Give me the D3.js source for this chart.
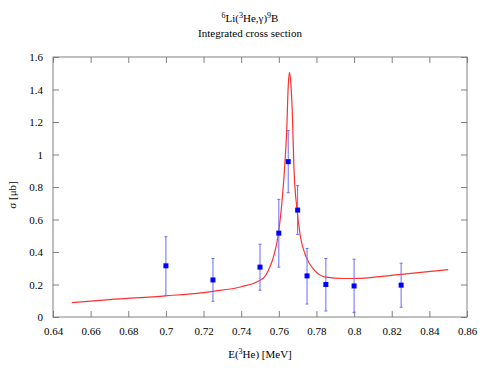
<!DOCTYPE html>
<html>
<head>
<meta charset="utf-8">
<script src="https://cdn.jsdelivr.net/npm/d3@7"></script>
<style>
body { margin: 0; background: #fff; }
svg text { font-family: 'Liberation Serif', 'DejaVu Serif', serif !important; fill: #000; }
</style>
</head>
<body>
<svg width="485" height="377" font-family="Liberation Serif"></svg>
<script>
// Measured points: energy, cross section, error bar low / high
var dataE = [0.70, 0.725, 0.75, 0.76, 0.765, 0.77, 0.775, 0.785, 0.80, 0.825];
var dataS = [0.315, 0.228, 0.307, 0.516, 0.956, 0.658, 0.253, 0.200, 0.191, 0.196];
var errLo = [0.132, 0.097, 0.165, 0.307, 0.765, 0.508, 0.080, 0.037, 0.027, 0.060];
var errHi = [0.494, 0.360, 0.448, 0.724, 1.147, 0.808, 0.422, 0.360, 0.356, 0.331];
// Fitted curve
var fitE = [0.65, 0.67, 0.70, 0.725, 0.74, 0.75, 0.7524, 0.7545, 0.7577, 0.7598, 0.7616, 0.7630,
            0.7642, 0.7650, 0.7656, 0.7663, 0.7672, 0.7680, 0.7697, 0.7715, 0.7745, 0.7789,
            0.7842, 0.7948, 0.80, 0.825, 0.85];
var fitS = [0.088, 0.107, 0.130, 0.158, 0.186, 0.226, 0.247, 0.288, 0.391, 0.514, 0.700, 0.905,
            1.15, 1.42, 1.505, 1.45, 1.25, 0.93, 0.658, 0.494, 0.370, 0.288,
            0.247, 0.237, 0.237, 0.262, 0.292];
var xTicks = [0.64, 0.66, 0.68, 0.70, 0.72, 0.74, 0.76, 0.78, 0.80, 0.82, 0.84, 0.86];
var yTicks = [0, 0.2, 0.4, 0.6, 0.8, 1.0, 1.2, 1.4, 1.6];

var svg = d3.select('svg');
var serif = "'Liberation Serif', 'DejaVu Serif', serif";
var margin = {top: 57, right: 18, bottom: 60, left: 53};
var width = 485 - margin.left - margin.right, height = 377 - margin.top - margin.bottom;
var inner = svg.append('g').attr('transform', 'translate(' + margin.left + ',' + margin.top + ')');

var x = d3.scaleLinear().domain([0.64, 0.86]).range([0, width]);
var y = d3.scaleLinear().domain([0, 1.6]).range([height, 0]);
var fmt = function(d) { return d3.format('~g')(+d.toFixed(2)); };
var axisColor = '#808080';

//Frame and axes with inward ticks, mirrored on top and right.
function styleAxis(g) {
	g.attr('font-family', serif).attr('font-size', 11);
	g.select('.domain').remove();
	g.selectAll('.tick line').attr('stroke', axisColor);
	g.selectAll('.tick text').style('font-family', serif).style('font-size', '11px').attr('fill', '#000');
}
inner.append('g').attr('transform', 'translate(0,' + height + ')')
	.call(d3.axisBottom(x).tickValues(xTicks).tickFormat(fmt).tickSizeInner(-6).tickPadding(10))
	.call(styleAxis);
inner.append('g')
	.call(d3.axisTop(x).tickValues(xTicks).tickFormat('').tickSizeInner(-6))
	.call(styleAxis);
inner.append('g')
	.call(d3.axisLeft(y).tickValues(yTicks).tickFormat(fmt).tickSizeInner(-6).tickPadding(10))
	.call(styleAxis);
inner.append('g').attr('transform', 'translate(' + width + ',0)')
	.call(d3.axisRight(y).tickValues(yTicks).tickFormat('').tickSizeInner(-6))
	.call(styleAxis);
inner.append('rect').attr('width', width).attr('height', height)
	.attr('fill', 'none').attr('stroke', axisColor).attr('stroke-width', 1);

//Fit curve.
var fit = fitE.map(function(e, i) { return {e: e, s: fitS[i]}; });
inner.append('path').datum(fit)
	.attr('fill', 'none').attr('stroke', '#ff3030').attr('stroke-width', 1.2)
	.attr('d', d3.line().curve(d3.curveMonotoneX)
		.x(function(d) { return x(d.e); }).y(function(d) { return y(d.s); }));

//Error bars and points.
var pts = dataE.map(function(e, i) { return {e: e, s: dataS[i], lo: errLo[i], hi: errHi[i]}; });
var eb = inner.append('g').attr('stroke', '#6a6aff').attr('stroke-width', 1);
eb.selectAll('line.v').data(pts).enter().append('line')
	.attr('x1', function(d) { return x(d.e); }).attr('x2', function(d) { return x(d.e); })
	.attr('y1', function(d) { return y(d.lo); }).attr('y2', function(d) { return y(d.hi); });
['lo', 'hi'].forEach(function(k) {
	eb.selectAll('line.c' + k).data(pts).enter().append('line')
		.attr('x1', function(d) { return x(d.e) - 1.5; }).attr('x2', function(d) { return x(d.e) + 1.5; })
		.attr('y1', function(d) { return y(d[k]); }).attr('y2', function(d) { return y(d[k]); });
});
inner.selectAll('rect.pt').data(pts).enter().append('rect')
	.attr('x', function(d) { return x(d.e) - 2.5; }).attr('y', function(d) { return y(d.s) - 2.5; })
	.attr('width', 5).attr('height', 5).attr('fill', '#0000ff');

//Title and labels.
function label(xp, yp) {
	return svg.append('text').attr('x', xp).attr('y', yp).attr('text-anchor', 'middle')
		.style('font-family', serif).style('font-size', '11px');
}
var t = label(250, 22);
t.append('tspan').attr('dy', '-4').style('font-size', '8px').text('6');
t.append('tspan').attr('dy', '4').text('Li(');
t.append('tspan').attr('dy', '-4').style('font-size', '8px').text('3');
t.append('tspan').attr('dy', '4').text('He,γ)');
t.append('tspan').attr('dy', '-4').style('font-size', '8px').text('9');
t.append('tspan').attr('dy', '4').text('B');
label(250, 37).text('Integrated cross section');

var xl = label(260, 358);
xl.append('tspan').text('E(');
xl.append('tspan').attr('dy', '-4').style('font-size', '8px').text('3');
xl.append('tspan').attr('dy', '4').text('He) [MeV]');

label(0, 0).attr('transform', 'translate(16,195) rotate(-90)').text('σ [μb]');
</script>
</body>
</html>
